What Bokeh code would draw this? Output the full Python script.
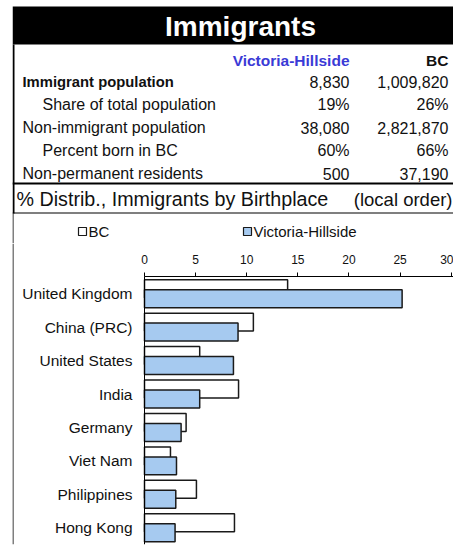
from bokeh.plotting import figure
from bokeh.layouts import column
from bokeh.models import (Range1d, FactorRange, FixedTicker, ColumnDataSource,
                          CategoricalAxis, Span)
from bokeh.core.properties import value
from bokeh.transform import dodge
from bokeh.embed import file_html
from bokeh.resources import INLINE

# ---------------- data ----------------
title = "Immigrants"
region = "Victoria-Hillside"
province = "BC"
row_labels = ["Immigrant population", "Share of total population",
              "Non-immigrant population", "Percent born in BC",
              "Non-permanent residents"]
row_vh = ["8,830", "19%", "38,080", "60%", "500"]
row_bc = ["1,009,820", "26%", "2,821,870", "66%", "37,190"]
row_bold = [True, False, False, False, False]
row_indent = [False, True, False, True, False]
subtitle = "% Distrib., Immigrants by Birthplace"
subtitle_note = "(local order)"

countries = ["United Kingdom", "China (PRC)", "United States", "India",
             "Germany", "Viet Nam", "Philippines", "Hong Kong"]
bc_pct = [14.0, 10.65, 5.4, 9.2, 4.07, 2.54, 5.08, 8.8]
vh_pct = [25.2, 9.15, 8.7, 5.4, 3.58, 3.13, 3.06, 2.99]
x_ticks = [0, 5, 10, 15, 20, 25, 30]

FONT = "Liberation Sans"
BLUE = "#a6caf0"
EDGE = "#1a1a1a"
TXT = "#111111"
HEAD_BLUE = "#3a3ad6"

W = 453
HA = 243           # height of the table figure (page rows 0..243)
HB = 546 - HA      # height of the chart figure
FRAME_LEFT = 12    # page x where both figures' frames begin (left border line)

# ---------------- table figure (page pixel coordinates) ----------------
pa = figure(width=W, height=HA, output_backend="svg", toolbar_location=None,
            x_range=Range1d(FRAME_LEFT, W), y_range=Range1d(HA, 0),
            x_axis_location=None, y_axis_location=None,
            min_border=0, min_border_left=FRAME_LEFT, min_border_right=0,
            min_border_top=0, min_border_bottom=0)
pa.outline_line_color = None
pa.xgrid.grid_line_color = None
pa.ygrid.grid_line_color = None
pa.background_fill_color = "white"
pa.border_fill_color = "white"


def rect(f, l, t, r, b, color, line_color=None, lw=1):
    f.quad(left=[l], right=[r], top=[t], bottom=[b], fill_color=color,
           line_color=line_color, line_width=lw)


def txt(f, xs, ys, texts, size, align="left", bold=False, color=TXT):
    f.text(x=xs, y=ys, text=texts, text_font=value(FONT),
           text_font_size=value(f"{size}px"),
           text_font_style="bold" if bold else "normal",
           text_align=align, text_baseline="middle", text_color=color)

# title bar
rect(pa, 12, 6, W, 44, "black")
txt(pa, [240], [25.5], [title], 28, align="center", bold=True, color="white")

# borders
rect(pa, 12, 44, 14, 213, "black")
rect(pa, 12, 182, W, 184, "black")
rect(pa, 12, 212, W, 213, "black")
rect(pa, 12, 213, 13, HA, "black")

# table header
txt(pa, [349], [60], [region], 15.5, align="right", bold=True, color=HEAD_BLUE)
txt(pa, [448], [60], [province], 15.5, align="right", bold=True)

row_y = [81, 104, 127, 150, 173]
for i, name in enumerate(row_labels):
    x0 = 42 if row_indent[i] else 22
    if row_bold[i]:
        txt(pa, [x0], [row_y[i]], [name], 14.8, bold=True)
    else:
        txt(pa, [x0], [row_y[i]], [name], 16)
    txt(pa, [349], [row_y[i]], [row_vh[i]], 16, align="right")
    txt(pa, [448], [row_y[i]], [row_bc[i]], 16, align="right")

txt(pa, [16], [198], [subtitle], 19.7)
txt(pa, [452], [199], [subtitle_note], 18.5, align="right")

# legend
rect(pa, 78, 227, 86, 235, "white", EDGE, 1.2)
txt(pa, [88], [231], [province], 15)
rect(pa, 243, 227, 251, 235, BLUE, EDGE, 1.2)
txt(pa, [253], [231], [region], 15)

# ---------------- chart figure ----------------
PX_PER_UNIT = 10.223
ZERO_X = 144               # page x of the value 0
x_start = -(ZERO_X - FRAME_LEFT) / PX_PER_UNIT
x_end = (W - ZERO_X) / PX_PER_UNIT

factors = countries[::-1] + [" "]   # blank band on top holds the value axis labels

pb = figure(width=W, height=HB, output_backend="svg", toolbar_location=None,
            x_range=Range1d(x_start, x_end), y_range=FactorRange(factors=factors),
            x_axis_location="above", y_axis_location=None,
            min_border=0, min_border_left=FRAME_LEFT, min_border_right=0,
            min_border_top=0, min_border_bottom=2)
pb.outline_line_color = None
pb.xgrid.grid_line_color = None
pb.ygrid.grid_line_color = None
pb.background_fill_color = "white"
pb.border_fill_color = "white"

# value axis, drawn at the top of the first category band
xa = pb.xaxis[0]
xa.fixed_location = len(countries)
xa.bounds = (0, x_end)
xa.ticker = FixedTicker(ticks=x_ticks)
xa.major_tick_out = 4
xa.major_tick_in = 0
xa.minor_tick_out = 0
xa.minor_tick_in = 0
xa.axis_line_color = "black"
xa.major_tick_line_color = "black"
xa.major_label_text_font = FONT
xa.major_label_text_font_size = "12px"
xa.major_label_text_color = TXT
xa.major_label_standoff = 9

# left frame border line
pb.add_layout(Span(location=x_start + 0.5 / PX_PER_UNIT, dimension="height",
                   line_color="black", line_width=1))

# category axis at value 0
cat_axis = CategoricalAxis(fixed_location=0, bounds=(0, len(countries)),
                           major_tick_out=0, major_tick_in=0,
                           axis_line_color="black", axis_line_width=1,
                           major_label_text_font=FONT,
                           major_label_text_font_size="15.5px",
                           major_label_text_color=TXT,
                           major_label_standoff=12)
pb.add_layout(cat_axis, "left")

src = ColumnDataSource(dict(country=countries, bc=bc_pct, vh=vh_pct))
pb.hbar(y=dodge("country", 0.149, range=pb.y_range), left=0, right="bc", height=0.537,
        source=src, fill_color="white", line_color=EDGE, line_width=1.5)
pb.hbar(y=dodge("country", -0.149, range=pb.y_range), left=0, right="vh", height=0.537,
        source=src, fill_color=BLUE, line_color=EDGE, line_width=1.5)

layout = column(pa, pb, spacing=0)

open("out.html", "w").write(file_html(layout, INLINE))
